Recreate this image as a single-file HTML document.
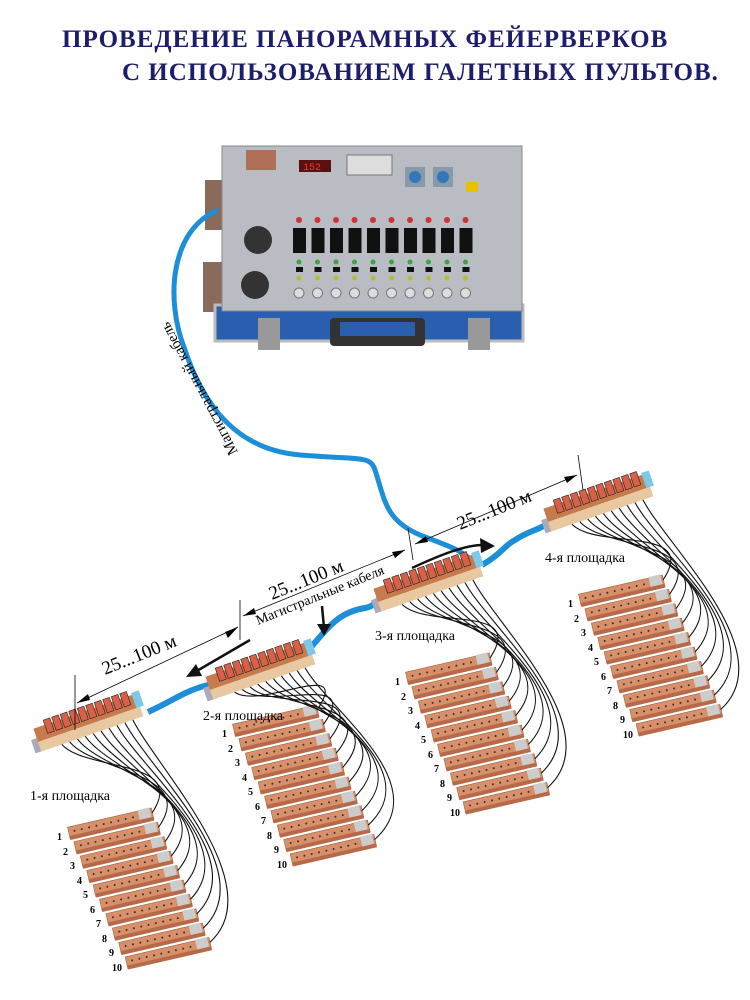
<!DOCTYPE html>
<html><head><meta charset="utf-8"><style>
html,body{margin:0;padding:0;background:#fff;}
svg{display:block}
.t{font-family:"Liberation Serif",serif;}
</style></head><body>
<svg id="s" width="750" height="1000" viewBox="0 0 750 1000" xmlns="http://www.w3.org/2000/svg">
<text class="t" x="62" y="47" font-size="25" font-weight="bold" fill="#1d1d6b" letter-spacing="1">ПРОВЕДЕНИЕ  ПАНОРАМНЫХ  ФЕЙЕРВЕРКОВ</text>
<text class="t" x="122" y="80" font-size="25" font-weight="bold" fill="#1d1d6b" letter-spacing="1">С  ИСПОЛЬЗОВАНИЕМ  ГАЛЕТНЫХ  ПУЛЬТОВ.</text>

<!-- controller -->
<g id="ctrl">
<rect x="205" y="180" width="20" height="50" fill="#8a6a5a"/>
<rect x="203" y="262" width="20" height="50" fill="#8a6a5a"/>
<rect x="215" y="305" width="308" height="36" fill="#2a5fb0" stroke="#bbb" stroke-width="3"/>
<rect x="330" y="318" width="95" height="28" rx="4" fill="#333"/>
<rect x="340" y="322" width="75" height="14" fill="#2a5fb0"/>
<rect x="258" y="318" width="22" height="32" fill="#999"/>
<rect x="468" y="318" width="22" height="32" fill="#999"/>
<rect x="222" y="146" width="300" height="165" fill="#b9bcc2" stroke="#888"/>
<rect x="246" y="150" width="30" height="20" fill="#b07058"/>
<rect x="299" y="160" width="32" height="12" fill="#5a1010"/>
<text x="303" y="170" font-size="10" fill="#f33" font-family="Liberation Mono">152</text>
<rect x="347" y="155" width="45" height="20" fill="#ddd" stroke="#777"/>
<rect x="405" y="167" width="20" height="20" fill="#8899aa"/><circle cx="415" cy="177" r="6" fill="#3377bb"/>
<rect x="433" y="167" width="20" height="20" fill="#8899aa"/><circle cx="443" cy="177" r="6" fill="#3377bb"/>
<rect x="466" y="182" width="12" height="10" fill="#e8c000"/>
<circle cx="258" cy="240" r="14" fill="#333"/>
<circle cx="255" cy="285" r="14" fill="#333"/>
</g>

<!-- main cable -->
<path d="M218,210 C170,230 165,300 185,350 C205,410 240,450 300,455 C360,460 370,455 375,470 C385,500 385,520 420,535 C445,545 465,550 475,565" fill="none" stroke="#1c8fd8" stroke-width="5"/>
<text class="t" font-size="15" transform="translate(238,452) rotate(-118)">Магистральный кабель</text>

<!-- cables between hubs -->
<path d="M148,712 C175,700 185,690 212,684" fill="none" stroke="#1c8fd8" stroke-width="6"/>
<path d="M312,646 C330,625 340,612 365,608 C375,606 378,600 380,598" fill="none" stroke="#1c8fd8" stroke-width="6"/>
<path d="M482,565 C500,555 505,545 515,540 C530,530 540,530 550,522" fill="none" stroke="#1c8fd8" stroke-width="6"/>

<g id="dyn"></g>

<!-- dimension lines -->
<g stroke="#000" stroke-width="0.8" fill="none">
<line x1="75" y1="675" x2="75" y2="730"/>
<line x1="240" y1="600" x2="240" y2="640"/>
<line x1="408" y1="528" x2="413" y2="560"/>
<line x1="578" y1="455" x2="583" y2="490"/>
<line x1="77" y1="703" x2="238" y2="627"/>
<line x1="243" y1="616" x2="405" y2="550"/>
<line x1="415" y1="544" x2="577" y2="475"/>
</g>
<g fill="#000">
<polygon points="77,703 88,694 90,700"/><polygon points="238,627 225,632 228,638"/>
<polygon points="243,616 254,608 256,614"/><polygon points="405,550 392,552 395,558"/>
<polygon points="415,544 426,536 428,542"/><polygon points="577,475 564,477 567,483"/>
</g>
<text class="t" font-size="19" transform="translate(105,675) rotate(-22)">25...100 м</text>
<text class="t" font-size="19" transform="translate(272,600) rotate(-22)">25...100 м</text>
<text class="t" font-size="19" transform="translate(460,530) rotate(-22)">25...100 м</text>
<text class="t" font-size="14" transform="translate(258,625) rotate(-22)">Магистральные кабеля</text>
<!-- arrows -->
<g stroke="#111" stroke-width="2.5" fill="none">
<path d="M250,640 L195,672"/>
<path d="M322,606 L324,628"/>
<path d="M412,568 C440,555 465,545 483,545"/>
</g>
<g fill="#111">
<polygon points="186,677 196,664 202,676"/>
<polygon points="324,636 317,624 331,624"/>
<polygon points="495,546 480,538 481,553"/>
</g>

<text class="t" font-size="14" x="30" y="800">1-я площадка</text>
<text class="t" font-size="14" x="203" y="720">2-я площадка</text>
<text class="t" font-size="14" x="375" y="640">3-я площадка</text>
<text class="t" font-size="14" x="545" y="562">4-я площадка</text>

<g class="t" font-size="10" font-weight="bold">
<g transform="translate(0,0)"><text x="57" y="840">1</text><text x="63" y="855">2</text><text x="70" y="869">3</text><text x="77" y="884">4</text><text x="83" y="898">5</text><text x="90" y="913">6</text><text x="96" y="927">7</text><text x="102" y="942">8</text><text x="109" y="956">9</text><text x="112" y="971">10</text></g>
<g transform="translate(165,-103)"><text x="57" y="840">1</text><text x="63" y="855">2</text><text x="70" y="869">3</text><text x="77" y="884">4</text><text x="83" y="898">5</text><text x="90" y="913">6</text><text x="96" y="927">7</text><text x="102" y="942">8</text><text x="109" y="956">9</text><text x="112" y="971">10</text></g>
<g transform="translate(338,-155)"><text x="57" y="840">1</text><text x="63" y="855">2</text><text x="70" y="869">3</text><text x="77" y="884">4</text><text x="83" y="898">5</text><text x="90" y="913">6</text><text x="96" y="927">7</text><text x="102" y="942">8</text><text x="109" y="956">9</text><text x="112" y="971">10</text></g>
<g transform="translate(511,-233)"><text x="57" y="840">1</text><text x="63" y="855">2</text><text x="70" y="869">3</text><text x="77" y="884">4</text><text x="83" y="898">5</text><text x="90" y="913">6</text><text x="96" y="927">7</text><text x="102" y="942">8</text><text x="109" y="956">9</text><text x="112" y="971">10</text></g>
</g>
</svg>
<script>
(function(){
var g=document.getElementById("dyn"),h="";
for(var i=0;i<10;i++){var x=293+i*18.5;
h+='<circle cx="'+(x+6)+'" cy="220" r="3" fill="#c33"/>';
h+='<rect x="'+x+'" y="228" width="13" height="25" fill="#111"/>';
h+='<circle cx="'+(x+6)+'" cy="262" r="2.5" fill="#3a3"/>';
h+='<rect x="'+(x+3)+'" y="267" width="7" height="5" fill="#111"/>';
h+='<circle cx="'+(x+6)+'" cy="278" r="2.5" fill="#bb3"/>';
h+='<circle cx="'+(x+6)+'" cy="293" r="5" fill="#ddd" stroke="#777"/>';}
var hubs=[[38,742],[210,690],[378,602],[548,522]],
grp=[[0,0],[165,-103],[338,-155],[511,-233]];
for(var k=0;k<4;k++){
 var ox=grp[k][0],oy=grp[k][1],hx=hubs[k][0],hy=hubs[k][1];
 for(var i=9;i>=0;i--){var lx=70+6.4*i+ox,ly=838+14.4*i+oy;
  h+='<g transform="translate('+lx+','+ly+') rotate(-13)"><rect x="0" y="-11" width="86" height="12" fill="#d8906a" stroke="#a06040" stroke-width="0.6"/><rect x="0" y="-2" width="86" height="4" fill="#b86a48"/><rect x="72" y="-12" width="12" height="10" fill="#ccc"/>';
  for(var j=0;j<9;j++)h+='<circle cx="'+(6+j*7.5)+'" cy="-6" r="1" fill="#333"/>';
  h+='</g>';}
 for(var i=0;i<10;i++){var lx=70+6.4*i+ox,ly=838+14.4*i+oy;var ex=lx+82,ey=ly-25;
  var ang=-19*Math.PI/180,d=20+i*8.5,sx=hx+d*Math.cos(ang),sy=hy+d*Math.sin(ang);
  h+='<path d="M'+sx.toFixed(1)+','+sy.toFixed(1)+' C'+(sx+10)+','+(sy+40)+' '+(ex+40+i*3)+','+(ey-60)+' '+ex.toFixed(1)+','+ey.toFixed(1)+'" fill="none" stroke="#111" stroke-width="1.1"/>';}
 h+='<g transform="translate('+hx+','+hy+') rotate(-19)"><rect x="-6" y="-4" width="10" height="14" fill="#aab"/><rect x="0" y="-14" width="108" height="14" fill="#c77a4c"/><rect x="0" y="0" width="108" height="10" fill="#e8c8a0"/><rect x="104" y="-16" width="8" height="16" fill="#7cc8e8"/>';
 for(var j=0;j<10;j++)h+='<rect x="'+(12+j*9)+'" y="-19" width="7" height="14" fill="#d86048" stroke="#222" stroke-width="0.6"/>';
 h+='</g>';
}
g.innerHTML=h;
})();
</script>
</body></html>
